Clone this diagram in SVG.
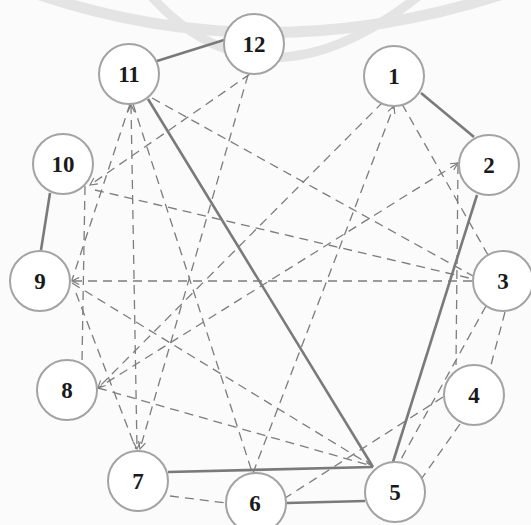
<svg xmlns="http://www.w3.org/2000/svg" width="531" height="525" viewBox="0 0 531 525">
<style>
.node circle{fill:#fff;stroke:#a3a3a3;stroke-width:2}
.node text{font-family:"Liberation Serif","Times New Roman",serif;font-weight:bold;font-size:23px;fill:#1a1a1a;text-anchor:middle}
.solid{stroke:#7a7a7a;stroke-width:2.6;fill:none}
.dash{stroke:#7d7d7d;stroke-width:1.3;stroke-dasharray:9 6;fill:none}
.wm{stroke:#e4e4e4;fill:none}
</style>
<defs>
<marker id="ah" viewBox="0 0 10 10" refX="9" refY="5" markerWidth="9" markerHeight="9" markerUnits="userSpaceOnUse" orient="auto-start-reverse">
<path d="M1 1 L9 5 L1 9" fill="none" stroke="#7d7d7d" stroke-width="1.3"/>
</marker>
</defs>
<rect width="531" height="525" fill="#fbfbfb"/>
<g id="watermark">
<path class="wm" stroke-width="11" d="M40 -5 Q 265 70 500 -5"/>
<path class="wm" stroke-width="9" d="M150 -5 Q 262 120 420 -5"/>
</g>
<g id="connectors">
<line class="solid" x1="157" y1="61" x2="224" y2="40"/>
<line class="solid" x1="421" y1="93" x2="474" y2="137"/>
<line class="solid" x1="477" y1="195" x2="393" y2="462"/>
<line class="solid" x1="50" y1="193" x2="41" y2="250"/>
<line class="solid" x1="148" y1="99" x2="373" y2="467"/>
<line class="solid" x1="168" y1="472" x2="373" y2="467"/>
<line class="solid" x1="287" y1="503" x2="365" y2="501"/>
<line class="dash" x1="250" y1="74" x2="90" y2="185" marker-end="url(#ah)"/>
<line class="dash" x1="248" y1="75" x2="140" y2="449" marker-end="url(#ah)"/>
<line class="dash" x1="130" y1="104" x2="72" y2="280"/>
<line class="dash" x1="131" y1="105" x2="137" y2="449" marker-start="url(#ah)" marker-end="url(#ah)"/>
<line class="dash" x1="133" y1="104" x2="252" y2="472"/>
<line class="dash" x1="152" y1="98" x2="473" y2="276"/>
<line class="dash" x1="95" y1="190" x2="473" y2="279"/>
<line class="dash" x1="85" y1="186" x2="82" y2="362"/>
<line class="dash" x1="472" y1="281" x2="72" y2="281" marker-end="url(#ah)"/>
<line class="dash" x1="76" y1="293" x2="136" y2="449"/>
<line class="dash" x1="72" y1="283" x2="372" y2="466"/>
<line class="dash" x1="98" y1="388" x2="372" y2="466" marker-end="url(#ah)"/>
<line class="dash" x1="383" y1="102" x2="98" y2="388" marker-end="url(#ah)"/>
<line class="dash" x1="458" y1="163" x2="98" y2="388" marker-start="url(#ah)"/>
<line class="dash" x1="253" y1="473" x2="394" y2="106" marker-end="url(#ah)"/>
<line class="dash" x1="402" y1="104" x2="488" y2="255"/>
<line class="dash" x1="458" y1="165" x2="456" y2="365"/>
<line class="dash" x1="505" y1="312" x2="491" y2="365"/>
<line class="dash" x1="486" y1="306" x2="400" y2="461"/>
<line class="dash" x1="443" y1="397" x2="282" y2="500"/>
<line class="dash" x1="460" y1="424" x2="422" y2="478"/>
<line class="dash" x1="170" y1="496" x2="226" y2="503"/>
</g>
<g id="n12" class="node"><circle cx="254" cy="44" r="30"/><text x="254" y="52">12</text></g>
<g id="n11" class="node"><circle cx="129" cy="74" r="30"/><text x="129" y="82">11</text></g>
<g id="n1" class="node"><circle cx="394" cy="76" r="30"/><text x="394" y="84">1</text></g>
<g id="n2" class="node"><circle cx="489" cy="165" r="30"/><text x="489" y="173">2</text></g>
<g id="n10" class="node"><circle cx="63" cy="164" r="30"/><text x="63" y="172">10</text></g>
<g id="n3" class="node"><circle cx="503" cy="281" r="30"/><text x="503" y="289">3</text></g>
<g id="n9" class="node"><circle cx="40" cy="281" r="30"/><text x="40" y="289">9</text></g>
<g id="n8" class="node"><circle cx="67" cy="390" r="30"/><text x="67" y="398">8</text></g>
<g id="n4" class="node"><circle cx="474" cy="395" r="30"/><text x="474" y="403">4</text></g>
<g id="n7" class="node"><circle cx="138" cy="481" r="30"/><text x="138" y="489">7</text></g>
<g id="n6" class="node"><circle cx="256" cy="503" r="30"/><text x="255" y="511">6</text></g>
<g id="n5" class="node"><circle cx="395" cy="492" r="30"/><text x="395" y="500">5</text></g>
</svg>
